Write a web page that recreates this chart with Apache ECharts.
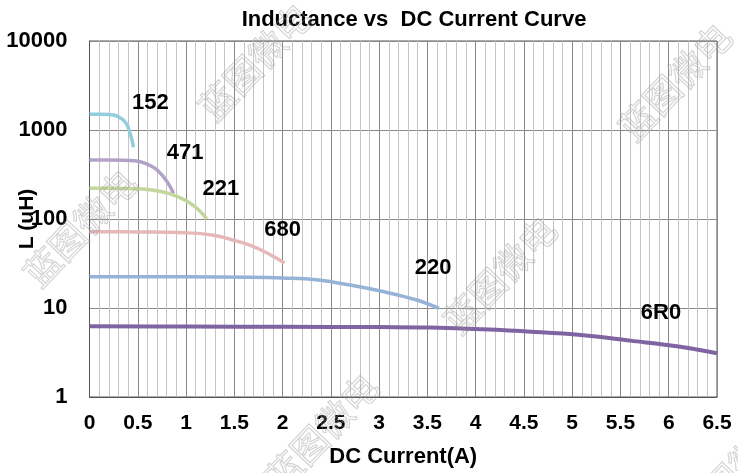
<!DOCTYPE html>
<html>
<head>
<meta charset="utf-8">
<script src="https://cdn.jsdelivr.net/npm/echarts@6/dist/echarts.min.js"></script>
<style>
  html, body { margin: 0; padding: 0; background: #fff; }
  #main { width: 738px; height: 473px; }
</style>
</head>
<body>
<div id="main"></div>
<script>
// 曲线数据: 电流(A) / 电感(uH)
var cur152 = [0, 0.1, 0.2, 0.25, 0.3, 0.35, 0.39, 0.42, 0.444, 0.454];
var ind152 = [1500, 1500, 1490, 1475, 1410, 1295, 1138, 918, 739, 640];
var cur471 = [0, 0.2, 0.47, 0.575, 0.68, 0.765, 0.835, 0.87];
var ind471 = [460, 460, 452, 423, 371, 299, 231, 194];
var cur221 = [0, 0.3, 0.47, 0.645, 0.82, 0.99, 1.095, 1.165, 1.215];
var ind221 = [221, 221, 219, 212, 194, 163, 137, 116, 100];
var cur680 = [0, 0.5, 0.99, 1.27, 1.51, 1.68, 1.85, 2.02];
var ind680 = [72, 71.5, 70, 66, 57, 50, 41, 32];
var cur220 = [0, 1, 1.66, 2.0, 2.35, 2.7, 3.05, 3.39, 3.62];
var ind220 = [22.5, 22.4, 22.2, 21.8, 20.8, 18.1, 15.2, 12.3, 9.9];
var cur6R0 = [0, 1, 2, 3, 3.53, 4.05, 4.57, 5.09, 5.6, 6.12, 6.5];
var ind6R0 = [6.25, 6.2, 6.15, 6.1, 6.05, 5.77, 5.42, 4.97, 4.3, 3.67, 3.1];

// 型号标签位置 (数据坐标)
var tagNames = ['152', '471', '221', '680', '220', '6R0'];
var tagX = [0.63, 0.99, 1.36, 2.0, 3.56, 5.92];
var tagY = [2000, 550, 218, 76, 28.5, 8.7];

var lineColors = ['#93cddd', '#b3a2c7', '#c3d69b', '#e6b9b8', '#95b3d7', '#8064a2'];

var chart = echarts.init(document.getElementById('main'));
var font = 'Liberation Sans, Arial, sans-serif';

function pairs(xs, ys) {
    var out = [];
    for (var i = 0; i < xs.length; i++) {
        out.push([xs[i], ys[i]]);
    }
    return out;
}

var curves = [
    pairs(cur152, ind152), pairs(cur471, ind471), pairs(cur221, ind221),
    pairs(cur680, ind680), pairs(cur220, ind220), pairs(cur6R0, ind6R0)
];

var series = [];
for (var i = 0; i < curves.length; i++) {
    series.push({
        name: tagNames[i],
        type: 'line',
        z: 10,
        data: curves[i],
        smooth: 0.4,
        showSymbol: false,
        lineStyle: { color: lineColors[i], width: i == 5 ? 4 : 3.5 },
        markPoint: {
            symbol: 'circle',
            symbolSize: 0,
            label: {
                show: true,
                position: 'inside',
                formatter: tagNames[i],
                color: '#000',
                fontWeight: 'bold',
                fontSize: 22,
                fontFamily: font
            },
            data: [{ coord: [tagX[i], tagY[i]] }]
        }
    });
}

// 水印
var marks = [[255, 62], [675, 82], [80, 228], [500, 275], [322, 432], [735, 470]];
var graphics = [];
for (var k = 0; k < marks.length; k++) {
    graphics.push({
        type: 'text',
        x: marks[k][0],
        y: marks[k][1],
        rotation: 0.81,
        z: 100,
        silent: true,
        style: {
            text: '蓝图微电',
            font: '36px "Noto Sans CJK SC"',
            fill: 'rgba(255,255,255,0)',
            stroke: 'rgba(150,150,150,0.4)',
            lineWidth: 1.2,
            textAlign: 'center',
            textVerticalAlign: 'middle'
        }
    });
}

var option = {
    animation: false,
    title: {
        text: 'Inductance vs  DC Current Curve',
        left: 409,
        top: 4,
        textAlign: 'center',
        textStyle: { fontSize: 22, fontWeight: 'bold', color: '#000', fontFamily: font }
    },
    grid: {
        left: 89.5, right: 21, top: 41, bottom: 76,
        containLabel: false,
        outerBoundsMode: 'none',
        show: true,
        borderColor: '#555',
        borderWidth: 1
    },
    xAxis: {
        type: 'value',
        min: 0,
        max: 6.5,
        interval: 0.5,
        name: 'DC Current(A)',
        nameLocation: 'middle',
        nameGap: 49,
        nameMoveOverlap: false,
        nameTextStyle: { fontSize: 22, fontWeight: 'bold', color: '#000', fontFamily: font },
        axisLine: { lineStyle: { color: '#555' } },
        axisTick: { show: false },
        axisLabel: { fontSize: 21, fontWeight: 'bold', color: '#000', fontFamily: font, margin: 16 },
        splitLine: { show: true, lineStyle: { color: '#8a8a8a', width: 1 } },
        minorTick: { show: false, splitNumber: 5 },
        minorSplitLine: { show: true, lineStyle: { color: '#c4c4c4', width: 1 } }
    },
    yAxis: {
        type: 'log',
        logBase: 10,
        min: 1,
        max: 10000,
        name: 'L (uH)',
        nameLocation: 'middle',
        nameGap: 52,
        nameMoveOverlap: false,
        nameTextStyle: { fontSize: 21, fontWeight: 'bold', color: '#000', fontFamily: font },
        axisLine: { show: true, lineStyle: { color: '#555' } },
        axisTick: { show: false },
        axisLabel: {
            fontSize: 22, fontWeight: 'bold', color: '#000', fontFamily: font, margin: 22,
            formatter: function (v) { return String(Math.round(v)); }
        },
        splitLine: { show: true, lineStyle: { color: '#8a8a8a', width: 1 } }
    },
    graphic: graphics,
    series: series
};

chart.setOption(option);
</script>
</body>
</html>
